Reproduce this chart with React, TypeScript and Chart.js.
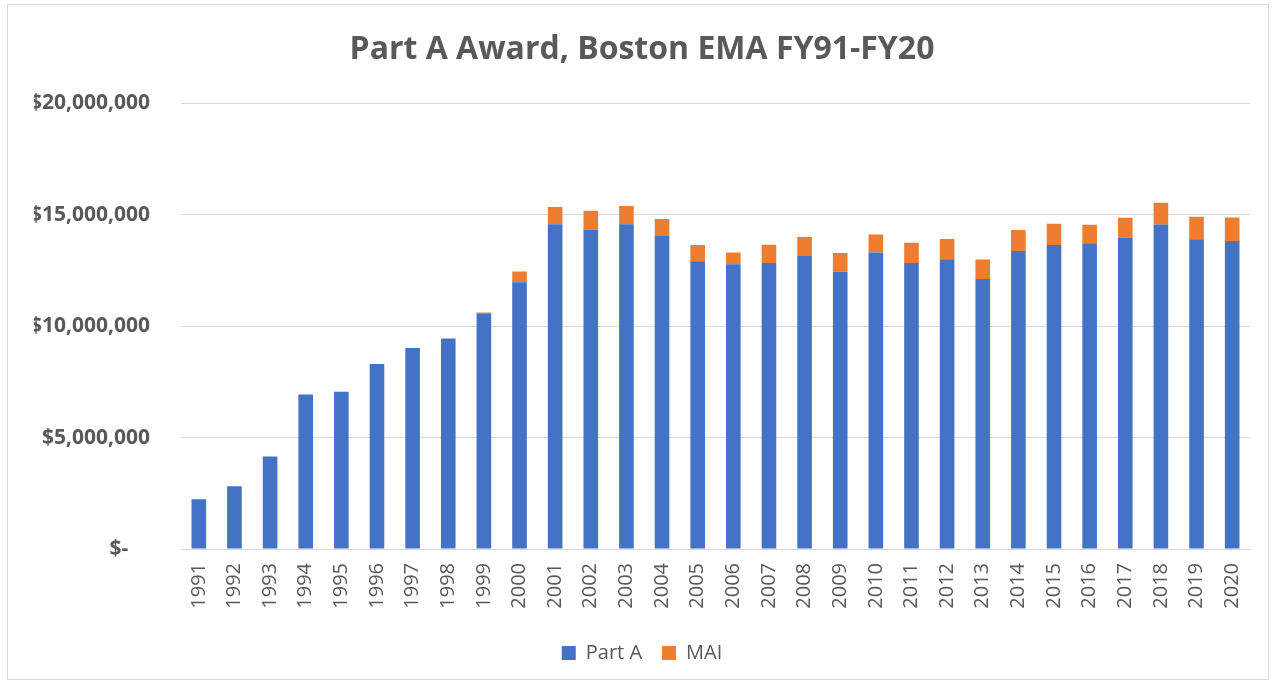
import React, { useEffect, useRef } from "react";
import { Chart, registerables } from "chart.js";

Chart.register(...registerables);

const years = [
  "1991", "1992", "1993", "1994", "1995", "1996", "1997", "1998", "1999", "2000",
  "2001", "2002", "2003", "2004", "2005", "2006", "2007", "2008", "2009", "2010",
  "2011", "2012", "2013", "2014", "2015", "2016", "2017", "2018", "2019", "2020",
];

const partA = [
  2230000, 2820000, 4150000, 6940000, 7060000, 8300000, 9020000, 9450000, 10550000, 11970000,
  14580000, 14330000, 14580000, 14050000, 12910000, 12780000, 12840000, 13150000, 12440000, 13310000,
  12840000, 13000000, 12120000, 13380000, 13650000, 13720000, 13970000, 14570000, 13900000, 13820000,
];

const mai = [
  0, 0, 0, 0, 0, 0, 0, 0, 60000, 480000,
  770000, 850000, 810000, 760000, 740000, 530000, 820000, 850000, 850000, 810000,
  910000, 910000, 870000, 940000, 950000, 830000, 900000, 970000, 1010000, 1060000,
];

const yTicks = [0, 5000000, 10000000, 15000000, 20000000];

const TEXT = "#595959";
const FONT = "'Open Sans', 'DejaVu Sans', sans-serif";

function fmt(v: number): string {
  if (v === 0) return "$-    ";
  return "$" + v.toLocaleString("en-US");
}

export default function App() {
  const ref = useRef<HTMLCanvasElement | null>(null);

  useEffect(() => {
    if (!ref.current) return;
    const chart = new Chart(ref.current, {
      type: "bar",
      data: {
        labels: years,
        datasets: [
          { label: "Part A", data: partA, backgroundColor: "#4472C4", stack: "s" },
          { label: "MAI", data: mai, backgroundColor: "#ED7D31", stack: "s" },
        ],
      },
      options: {
        responsive: false,
        animation: false,
        layout: { padding: { left: 34, right: 26, top: 0, bottom: 11 } },
        datasets: { bar: { categoryPercentage: 1, barPercentage: 0.41 } },
        plugins: {
          title: {
            display: true,
            text: "Part A Award, Boston EMA FY91-FY20",
            color: TEXT,
            font: { family: FONT, size: 32, weight: "bold", lineHeight: 1.2 },
            padding: { top: 31, bottom: 34 },
          },
          legend: {
            position: "bottom",
            labels: {
              color: TEXT,
              font: { family: FONT, size: 20 },
              boxWidth: 14,
              boxHeight: 14,
              padding: 20,
            },
          },
          tooltip: { enabled: false },
        },
        scales: {
          x: {
            stacked: true,
            grid: { display: false, drawTicks: false },
            border: { display: true, color: "#d9d9d9", width: 1 },
            ticks: {
              color: TEXT,
              font: { family: FONT, size: 20 },
              minRotation: 90,
              maxRotation: 90,
              padding: 14,
              autoSkip: false,
            },
            afterFit: (s: any) => {
              s.height = 74;
            },
          },
          y: {
            stacked: true,
            min: 0,
            max: 20000000,
            afterBuildTicks: (s: any) => {
              s.ticks = yTicks.map((v) => ({ value: v }));
            },
            grid: { color: "#d9d9d9", lineWidth: 1, drawTicks: false },
            border: { display: false },
            ticks: {
              color: TEXT,
              font: { family: FONT, size: 21, weight: "bold" },
              padding: 31,
              callback: (v: any) => fmt(Number(v)),
            },
            afterFit: (s: any) => {
              s.width = 147;
            },
          },
        },
      },
    });
    return () => chart.destroy();
  }, []);

  return (
    <div style={{ position: "fixed", left: 0, top: 0, width: 1276, height: 684, background: "#fff" }}>
      <div
        style={{
          position: "absolute",
          left: 7,
          top: 4,
          width: 1262,
          height: 676,
          border: "1px solid #d9d9d9",
          boxSizing: "border-box",
        }}
      />
      <canvas ref={ref} width={1276} height={684} style={{ position: "absolute", left: 0, top: 0 }} />
    </div>
  );
}
